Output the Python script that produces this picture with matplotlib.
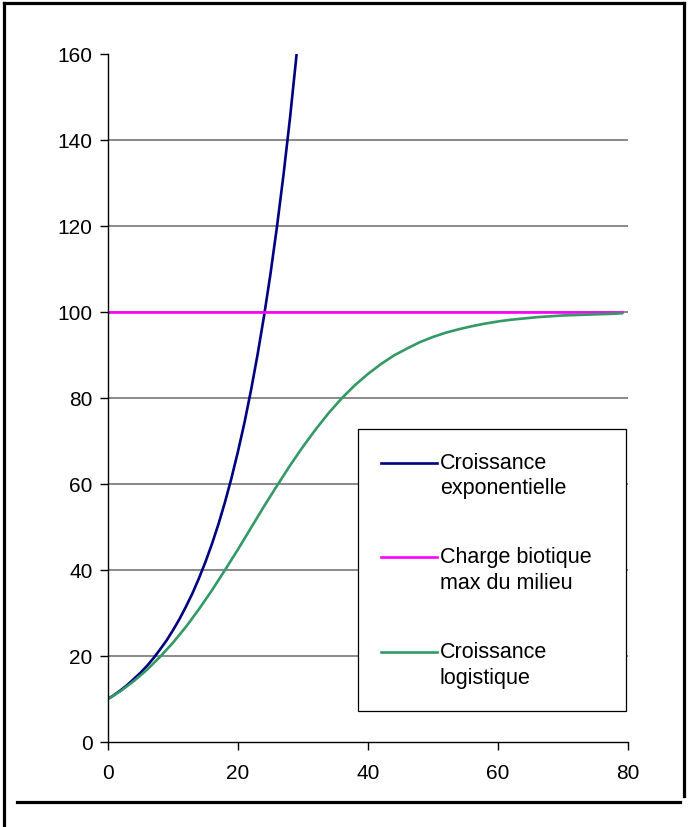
import matplotlib
matplotlib.use("Agg")
import matplotlib.pyplot as plt
from matplotlib.lines import Line2D
from matplotlib.patches import Rectangle

plt.rcParams['font.family'] = ['Liberation Sans', 'DejaVu Sans']

# croissance exponentielle, un point par unite de temps (0..29)
t_expo = list(range(0, 30))
n_expo = [10.0, 11.0, 12.1, 13.3, 14.7, 16.1, 17.7, 19.5, 21.5, 23.6,
          26.0, 28.6, 31.5, 34.6, 38.1, 41.9, 46.1, 50.7, 55.8, 61.4,
          67.6, 74.3, 81.8, 90.0, 99.0, 108.9, 119.9, 131.9, 145.1, 159.7]

# charge biotique max du milieu
t_charge = [0, 79]
n_charge = [100, 100]

# croissance logistique
t_logi = [0, 2, 4, 6, 8, 10, 12, 14, 16, 18, 20, 22, 24, 26, 28, 30, 32, 34, 36, 38,
          40, 42, 44, 46, 48, 50, 52, 54, 56, 58, 60, 62, 64, 66, 68, 70, 72, 74, 76, 78, 79]
n_logi = [10.0, 11.9, 14.2, 16.8, 19.8, 23.1, 26.8, 30.9, 35.3, 40.0,
          44.8, 49.8, 54.8, 59.6, 64.3, 68.7, 72.8, 76.6, 80.0, 83.0,
          85.6, 87.9, 89.9, 91.5, 93.0, 94.2, 95.2, 96.0, 96.7, 97.3,
          97.8, 98.2, 98.5, 98.8, 99.0, 99.2, 99.3, 99.4, 99.5, 99.6, 99.7]

labels = ["Croissance\nexponentielle", "Charge biotique\nmax du milieu", "Croissance\nlogistique"]
colors = ["#000080", "#FF00FF", "#339966"]
x_ticks = [0, 20, 40, 60, 80]
y_ticks = [0, 20, 40, 60, 80, 100, 120, 140, 160]

W, H = 688, 828
fig = plt.figure(figsize=(W / 100, H / 100), dpi=100)
ax = fig.add_axes([108 / W, 1 - 743 / H, 520 / W, 688 / H])

l1, = ax.plot(t_expo, n_expo, color=colors[0], lw=1.9, zorder=2)
l2, = ax.plot(t_charge, n_charge, color=colors[1], lw=1.9, zorder=2)
l3, = ax.plot(t_logi, n_logi, color=colors[2], lw=1.9, zorder=2)

ax.set_xlim(0, 80)
ax.set_ylim(0, 160)
ax.set_xticks(x_ticks)
ax.set_yticks(y_ticks)
ax.tick_params(axis='both', direction='out', length=6, width=1, color='black',
               labelsize=15, labelcolor='black')
ax.tick_params(axis='y', pad=5)
ax.tick_params(axis='x', pad=9)

for side in ['top', 'right']:
    ax.spines[side].set_visible(False)
for side in ['left', 'bottom']:
    ax.spines[side].set_color('black')
    ax.spines[side].set_linewidth(1)

ax.set_axisbelow(True)
ax.yaxis.grid(True, color='#808080', lw=1.3)
ax.get_ygridlines()[-1].set_visible(False)
ax.get_ygridlines()[0].set_visible(False)

# cadre de la legende
ax.add_patch(Rectangle((357.5 / W, 1 - 712 / H), 268.5 / W, 282 / H,
                       transform=fig.transFigure, facecolor='white',
                       edgecolor='black', lw=0.9, zorder=3))

fs = 15.5
leg = ax.legend([l1, l2, l3], [" \n" + s for s in labels],
                loc='upper left', bbox_to_anchor=(381 / W, 1 - 427 / H),
                bbox_transform=fig.transFigure, frameon=False,
                borderpad=0, borderaxespad=0, fontsize=fs,
                handlelength=2.6, handletextpad=0.14, labelspacing=1.04)
leg.set_zorder(5)
for t in leg.get_texts():
    t.set_linespacing(1.29)

# cadre exterieur
fr = dict(color='black', lw=2.3, transform=fig.transFigure)
fig.add_artist(Line2D([4 / W, 4 / W], [0, 1 - 4 / H], **fr))
fig.add_artist(Line2D([4 / W, 684 / W], [1 - 4 / H, 1 - 4 / H], **fr))
fig.add_artist(Line2D([684 / W, 684 / W], [1 - 4 / H, 1 - 797 / H], **fr))
fig.add_artist(Line2D([17 / W, 680 / W], [1 - 803 / H, 1 - 803 / H], **fr))

fig.savefig("out.png", dpi=100)
